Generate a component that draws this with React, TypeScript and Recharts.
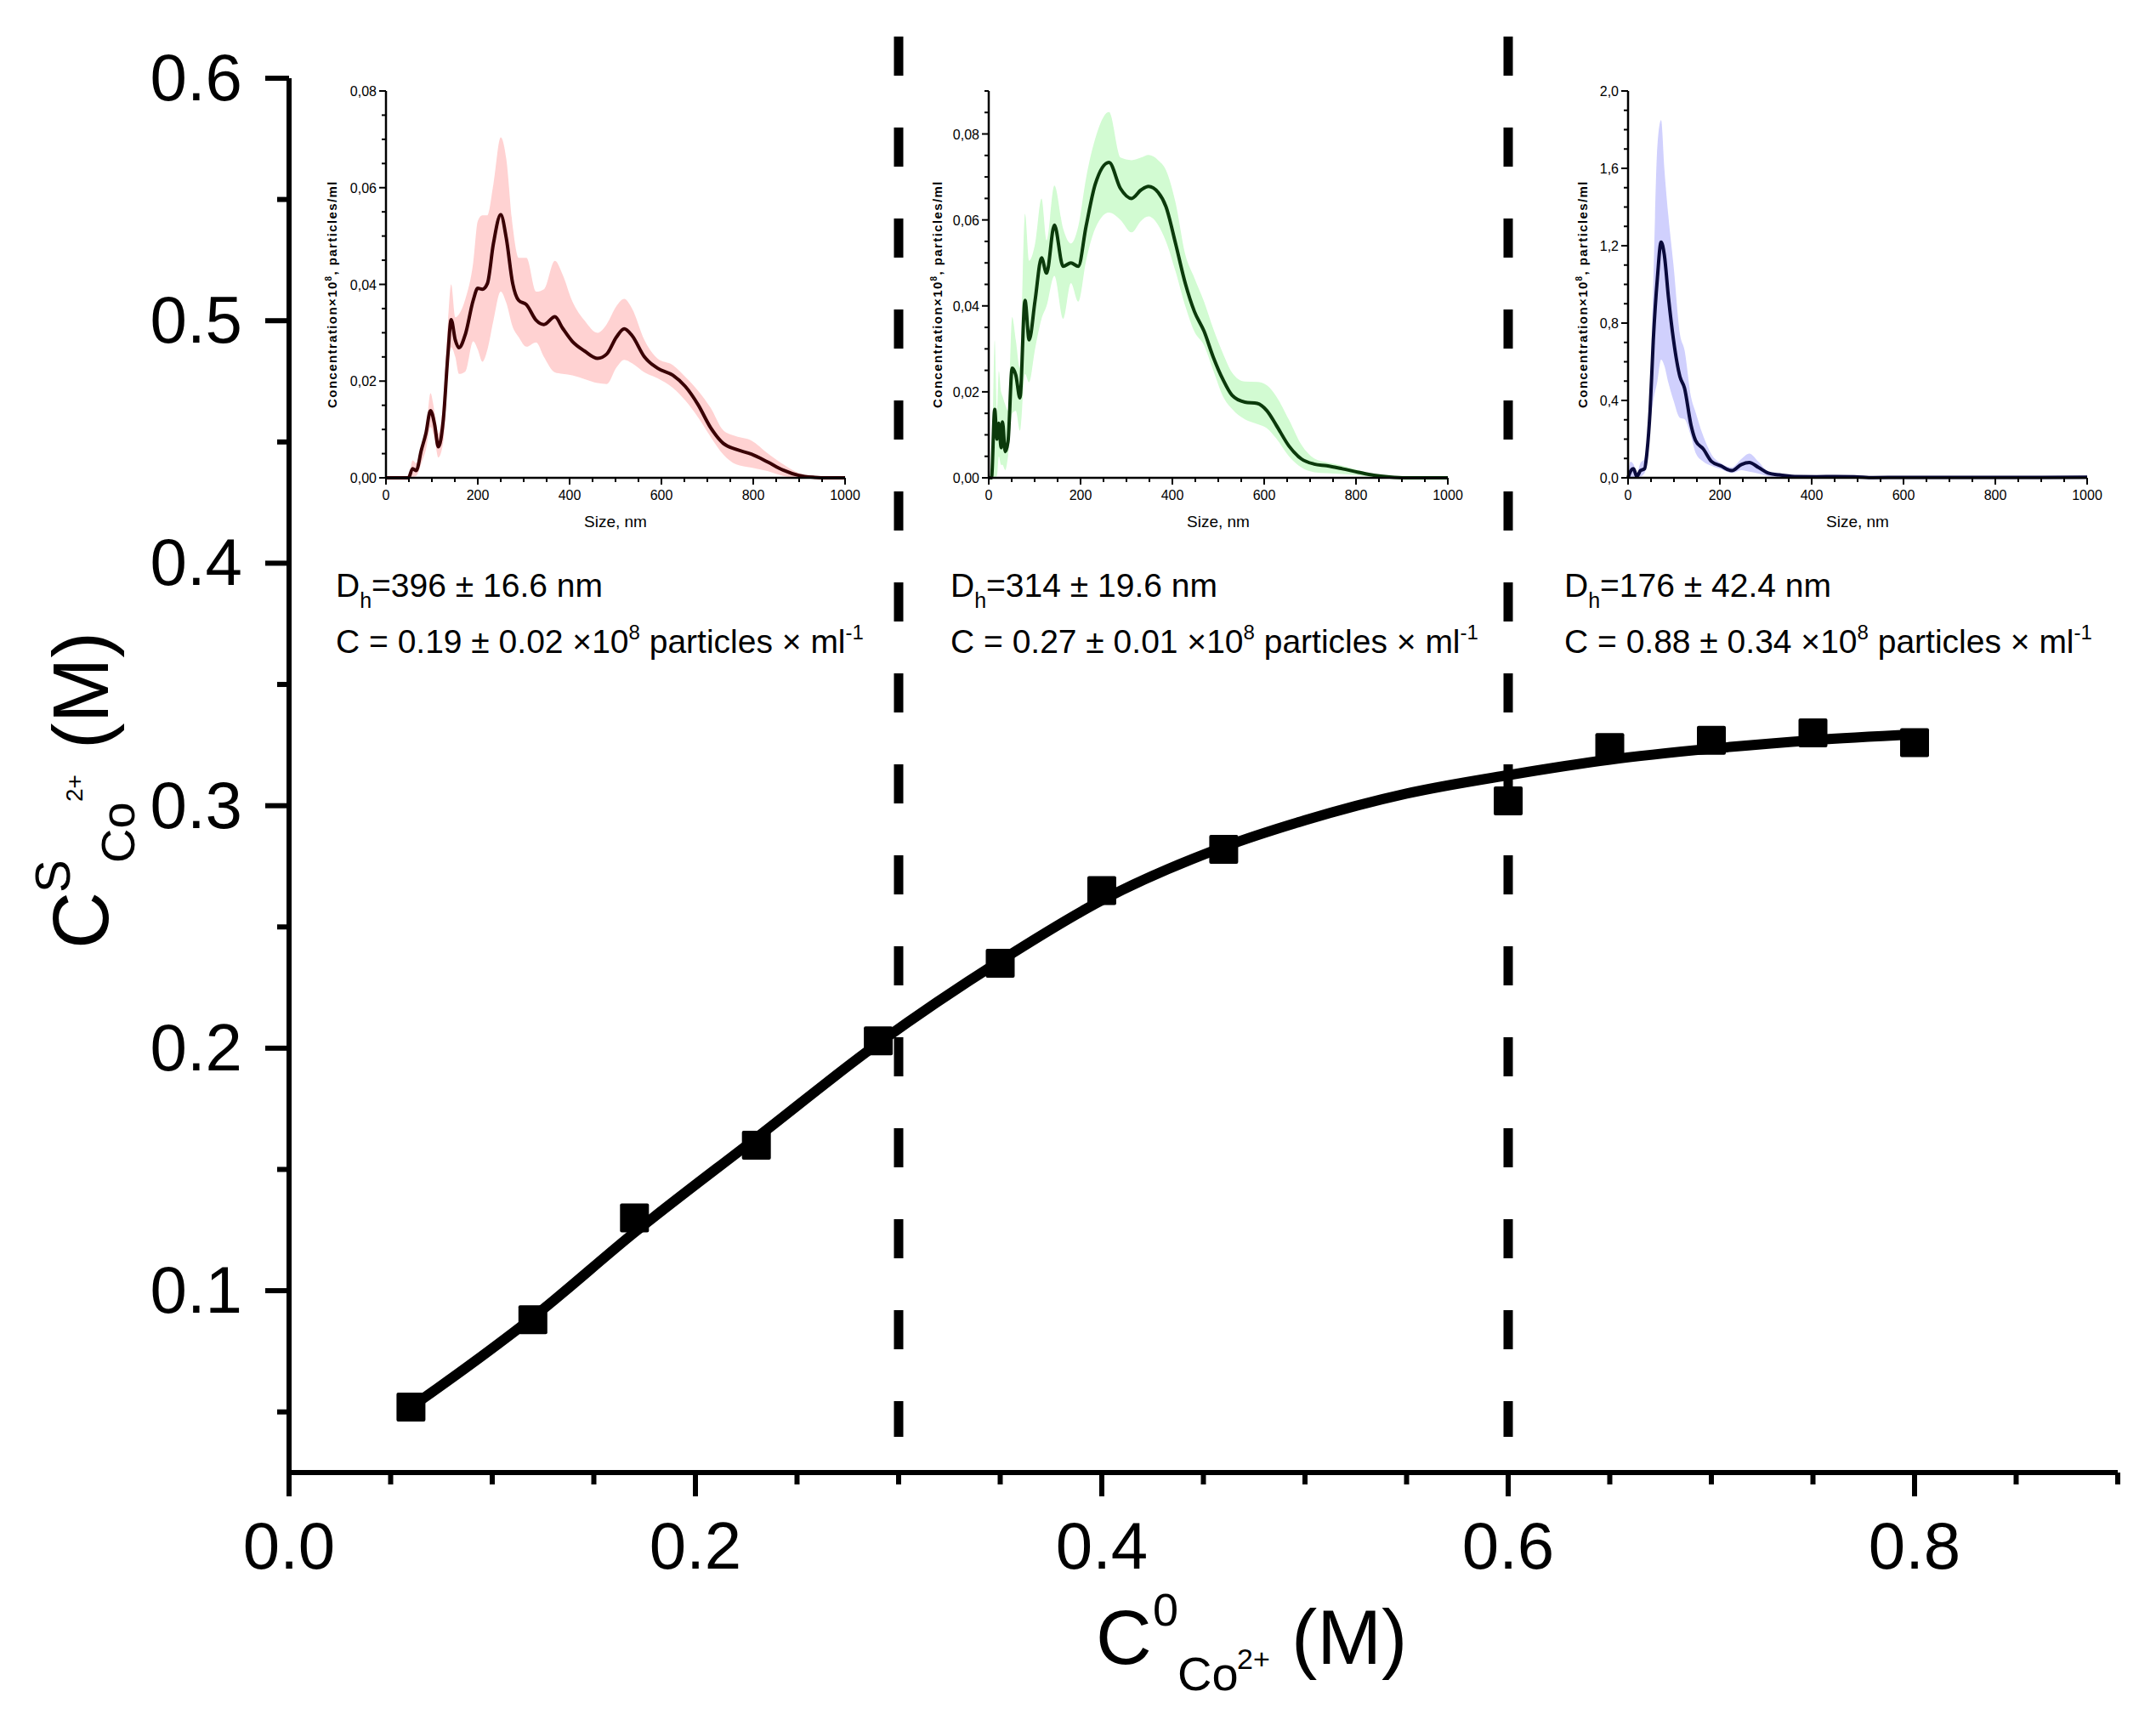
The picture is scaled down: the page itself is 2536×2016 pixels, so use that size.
import React from 'react';
import { ComposedChart, XAxis, YAxis, Line, Scatter, Area, ReferenceLine, Label } from 'recharts';

const FONT = "'Liberation Sans', Arial, Helvetica, sans-serif";

// main plot: sorbed vs. initial Co2+ concentration
const X_POINTS = [0.06, 0.12, 0.17, 0.23, 0.29, 0.35, 0.4, 0.46, 0.6, 0.65, 0.7, 0.75, 0.8];
const Y_POINTS = [0.052, 0.088, 0.13, 0.16, 0.203, 0.235, 0.265, 0.282, 0.302, 0.324, 0.327, 0.33, 0.326];
const FIT_X = [0.06, 0.09, 0.12, 0.17, 0.23, 0.29, 0.35, 0.4, 0.46, 0.5, 0.55, 0.6, 0.65, 0.7, 0.75, 0.8];
const FIT_Y = [0.052, 0.07, 0.089, 0.124, 0.163, 0.202, 0.236, 0.261, 0.283, 0.294, 0.305, 0.3126, 0.319, 0.3235, 0.327, 0.3294];
const X_TICKS = [0, 0.05, 0.1, 0.15, 0.2, 0.25, 0.3, 0.35, 0.4, 0.45, 0.5, 0.55, 0.6, 0.65, 0.7, 0.75, 0.8, 0.85, 0.9];
const X_LABELS = [0, 0.2, 0.4, 0.6, 0.8];
const Y_TICKS = [0.05, 0.1, 0.15, 0.2, 0.25, 0.3, 0.35, 0.4, 0.45, 0.5, 0.55, 0.6];
const Y_LABELS = [0.1, 0.2, 0.3, 0.4, 0.5, 0.6];
const BORDERS = [0.3, 0.6];

// inset annotations
const DH = [396, 314, 176];
const DH_ERR = [16.6, 19.6, 42.4];
const CONC = [0.19, 0.27, 0.88];
const CONC_ERR = [0.02, 0.01, 0.34];

// insets: size distributions
const INSET_X_TICKS = [0, 50, 100, 150, 200, 250, 300, 350, 400, 450, 500, 550, 600, 650, 700, 750, 800, 850, 900, 950, 1000];
const INSET_X_LABELS = [0, 200, 400, 600, 800, 1000];

const SIZES_1 = [0, 49, 58, 66, 77, 87, 97, 106, 114, 125, 135, 142, 151, 159, 173, 190, 200, 210, 221, 234, 250, 262, 276, 289, 306, 327, 344, 368, 385, 406, 433, 461, 481, 502, 519, 536, 563, 591, 625, 652, 680, 707, 735, 762, 796, 831, 865, 899, 934, 961, 1000];
const MEAN_1 = [0, 0, 0.0019, 0.0015, 0.0057, 0.0092, 0.0139, 0.011, 0.0064, 0.0121, 0.0256, 0.0327, 0.0285, 0.0269, 0.0297, 0.0367, 0.0392, 0.039, 0.0402, 0.0484, 0.0544, 0.0496, 0.0402, 0.0367, 0.0358, 0.0326, 0.0317, 0.0333, 0.0309, 0.0282, 0.0262, 0.0247, 0.0256, 0.0291, 0.0308, 0.0294, 0.025, 0.0227, 0.0212, 0.0189, 0.0151, 0.0104, 0.0071, 0.0059, 0.0049, 0.0033, 0.0016, 0.0005, 0.0001, 0, 0];
const LO_1 = [0, 0, 0.0002, 0.0004, 0.003, 0.0058, 0.0105, 0.008, 0.0042, 0.0075, 0.022, 0.027, 0.025, 0.0215, 0.022, 0.0282, 0.0265, 0.024, 0.0265, 0.0325, 0.0385, 0.0362, 0.0312, 0.0291, 0.0271, 0.028, 0.025, 0.0218, 0.0215, 0.0212, 0.0204, 0.0196, 0.0194, 0.0228, 0.0244, 0.0237, 0.0218, 0.0206, 0.0186, 0.016, 0.0125, 0.0085, 0.0048, 0.0028, 0.0021, 0.0014, 0.0004, 0, 0, 0, 0];
const HI_1 = [0, 0, 0.0036, 0.003, 0.0065, 0.0095, 0.0175, 0.0135, 0.0092, 0.016, 0.032, 0.04, 0.0332, 0.0338, 0.037, 0.0445, 0.0531, 0.0543, 0.0543, 0.0607, 0.0704, 0.066, 0.052, 0.0455, 0.0455, 0.0385, 0.039, 0.0449, 0.042, 0.0365, 0.0325, 0.03, 0.0318, 0.0355, 0.037, 0.035, 0.0285, 0.0247, 0.0233, 0.0209, 0.018, 0.0145, 0.0098, 0.0086, 0.0077, 0.0051, 0.0028, 0.001, 0.0002, 0, 0];

const SIZES_2 = [0, 6, 13, 18, 22, 27, 30, 36, 42, 51, 59, 68, 79, 88, 101, 115, 126, 143, 162, 179, 195, 212, 232, 262, 287, 311, 332, 348, 369, 386, 407, 428, 448, 469, 489, 510, 530, 558, 585, 606, 626, 654, 681, 709, 736, 770, 805, 839, 873, 908, 1000];
const MEAN_2 = [0, 0, 0.0159, 0.009, 0.0127, 0.007, 0.013, 0.0061, 0.0084, 0.0255, 0.0239, 0.0186, 0.0413, 0.0321, 0.0413, 0.0512, 0.0476, 0.0588, 0.0492, 0.05, 0.0492, 0.0585, 0.0683, 0.0734, 0.0673, 0.065, 0.067, 0.0678, 0.0664, 0.0631, 0.0545, 0.0453, 0.0387, 0.0341, 0.0281, 0.0229, 0.0192, 0.0176, 0.0173, 0.0156, 0.0123, 0.0074, 0.0044, 0.0032, 0.0028, 0.0021, 0.0013, 0.0006, 0.0002, 0, 0];
const LO_2 = [0, 0, 0, 0.0005, 0.005, 0.003, 0.003, 0.0018, 0.005, 0.015, 0.0156, 0.011, 0.0242, 0.0222, 0.03, 0.037, 0.04, 0.047, 0.037, 0.0453, 0.041, 0.0505, 0.058, 0.0617, 0.06, 0.0571, 0.0598, 0.0608, 0.0588, 0.055, 0.048, 0.04, 0.034, 0.0308, 0.025, 0.019, 0.016, 0.0136, 0.0125, 0.0115, 0.0092, 0.005, 0.0024, 0.0013, 0.0011, 0.0009, 0.0006, 0.0002, 0, 0, 0];
const HI_2 = [0, 0, 0.032, 0.0156, 0.0248, 0.02, 0.019, 0.017, 0.0156, 0.0374, 0.032, 0.0255, 0.0614, 0.0505, 0.0545, 0.065, 0.0552, 0.068, 0.058, 0.0545, 0.0585, 0.0697, 0.0789, 0.0851, 0.0745, 0.0739, 0.0745, 0.0751, 0.0739, 0.0716, 0.064, 0.052, 0.0465, 0.041, 0.0347, 0.029, 0.0245, 0.0224, 0.0223, 0.0215, 0.019, 0.0135, 0.0077, 0.0045, 0.0036, 0.0028, 0.0018, 0.0008, 0.0003, 0, 0];

const SIZES_3 = [0, 5, 12, 19, 27, 36, 41, 48, 55, 64, 72, 79, 88, 99, 113, 123, 137, 147, 164, 182, 202, 226, 247, 264, 284, 305, 329, 363, 411, 452, 493, 534, 600, 700, 800, 900, 1000];
const MEAN_3 = [0, 0.032, 0.047, 0.007, 0.037, 0.047, 0.127, 0.347, 0.713, 1.036, 1.219, 1.153, 0.933, 0.713, 0.523, 0.464, 0.274, 0.193, 0.149, 0.084, 0.062, 0.037, 0.069, 0.079, 0.054, 0.025, 0.015, 0.007, 0.006, 0.007, 0.006, 0.0015, 0.002, 0.002, 0.002, 0.002, 0.003];
const LO_3 = [0, 0, 0, 0, 0.005, 0.025, 0.08, 0.274, 0.4, 0.5, 0.611, 0.58, 0.49, 0.4, 0.31, 0.303, 0.215, 0.13, 0.084, 0.062, 0.045, 0.025, 0.04, 0.032, 0.022, 0.008, 0.004, 0.002, 0.002, 0.003, 0.002, 0, 0, 0, 0, 0, 0];
const HI_3 = [0, 0.083, 0.069, 0.025, 0.076, 0.1, 0.186, 0.4, 1.006, 1.72, 1.849, 1.6, 1.35, 1.1, 0.743, 0.66, 0.42, 0.34, 0.215, 0.12, 0.076, 0.054, 0.098, 0.125, 0.083, 0.034, 0.024, 0.012, 0.01, 0.009, 0.008, 0.003, 0.003, 0.003, 0.003, 0.003, 0.004];

const Y1_TICKS = [0, 0.005, 0.01, 0.015, 0.02, 0.025, 0.03, 0.035, 0.04, 0.045, 0.05, 0.055, 0.06, 0.065, 0.07, 0.075, 0.08];
const Y2_TICKS = [0, 0.005, 0.01, 0.015, 0.02, 0.025, 0.03, 0.035, 0.04, 0.045, 0.05, 0.055, 0.06, 0.065, 0.07, 0.075, 0.08, 0.085, 0.09];
const Y12_LABELS = [0, 0.02, 0.04, 0.06, 0.08];
const Y3_TICKS = [0, 0.1, 0.2, 0.3, 0.4, 0.5, 0.6, 0.7, 0.8, 0.9, 1, 1.1, 1.2, 1.3, 1.4, 1.5, 1.6, 1.7, 1.8, 1.9, 2];
const Y3_LABELS = [0, 0.4, 0.8, 1.2, 1.6, 2];

const points = X_POINTS.map((x, i) => ({ x, y: Y_POINTS[i] }));
const fit = FIT_X.map((x, i) => ({ x, y: FIT_Y[i] }));

const table = (sizes: number[], mean: number[], lo: number[], hi: number[]) =>
  sizes.map((s, i) => ({ s, mean: mean[i], band: [lo[i], hi[i]] }));

const isIn = (list: number[], v: number) => list.some((m) => Math.abs(m - v) < 1e-9);

const MainXTick = (props: any) => {
  const { x, y, payload } = props;
  const major = isIn(X_LABELS, payload.value);
  return (
    <g>
      <line x1={x} x2={x} y1={y} y2={y + (major ? 28 : 14)} stroke="#000" strokeWidth={6} />
      {major && (
        <text x={x} y={y + 113} textAnchor="middle" fontSize={78} fontFamily={FONT} fill="#000">
          {payload.value.toFixed(1)}
        </text>
      )}
    </g>
  );
};

const MainYTick = (props: any) => {
  const { x, y, payload } = props;
  const major = isIn(Y_LABELS, payload.value);
  return (
    <g>
      <line x1={x} x2={x - (major ? 28 : 14)} y1={y} y2={y} stroke="#000" strokeWidth={6} />
      {major && (
        <text x={x - 55} y={y + 26} textAnchor="end" fontSize={78} fontFamily={FONT} fill="#000">
          {payload.value.toFixed(1)}
        </text>
      )}
    </g>
  );
};

const renderYTitle = () => (
  <text transform="translate(127,1112) rotate(-90)" fontFamily={FONT} fill="#000">
    <tspan x={-4} y={0} fontSize={93}>C</tspan>
    <tspan x={62} y={-45} fontSize={58}>S</tspan>
    <tspan x={97} y={31} fontSize={56}>Co</tspan>
    <tspan x={169} y={-30} fontSize={28}>2+</tspan>
    <tspan x={231} y={0} fontSize={92}>(M)</tspan>
  </text>
);

const renderXTitle = () => (
  <text fontFamily={FONT} fill="#000">
    <tspan x={1289} y={1957} fontSize={91}>C</tspan>
    <tspan x={1356} y={1912} fontSize={54}>0</tspan>
    <tspan x={1385} y={1988} fontSize={56}>Co</tspan>
    <tspan x={1455} y={1963} fontSize={34}>2+</tspan>
    <tspan x={1519} y={1957} fontSize={91}>(M)</tspan>
  </text>
);

const INFO_X = [395, 1118, 1840];

const renderInfo = () => (
  <g fontFamily={FONT} fill="#000">
    {INFO_X.map((x, i) => (
      <g key={i}>
        <text x={x} y={702} fontSize={39}>
          D<tspan dy={13} fontSize={25}>h</tspan>
          <tspan dy={-13}>={DH[i]} ± {DH_ERR[i].toFixed(1)} nm</tspan>
        </text>
        <text x={x} y={768} fontSize={39}>
          C = {CONC[i].toFixed(2)} ± {CONC_ERR[i].toFixed(2)} ×10
          <tspan dy={-16} fontSize={24}>8</tspan>
          <tspan dy={16}> particles × ml</tspan>
          <tspan dy={-16} fontSize={24}>-1</tspan>
        </text>
      </g>
    ))}
  </g>
);

const InsetXTick = (props: any) => {
  const { x, y, payload } = props;
  const major = isIn(INSET_X_LABELS, payload.value);
  return (
    <g>
      <line x1={x} x2={x} y1={y} y2={y + (major ? 8 : 5)} stroke="#000" strokeWidth={2} />
      {major && (
        <text x={x} y={y + 26} textAnchor="middle" fontSize={16} fontFamily={FONT} fill="#000">
          {payload.value}
        </text>
      )}
    </g>
  );
};

const makeInsetYTick = (labels: number[], digits: number) => (props: any) => {
  const { x, y, payload } = props;
  const major = isIn(labels, payload.value);
  return (
    <g>
      <line x1={x} x2={x - (major ? 8 : 5)} y1={y} y2={y} stroke="#000" strokeWidth={2} />
      {major && (
        <text x={x - 11} y={y + 6} textAnchor="end" fontSize={16} fontFamily={FONT} fill="#000">
          {payload.value.toFixed(digits).replace('.', ',')}
        </text>
      )}
    </g>
  );
};

const Inset = ({ data, x0, yMax, yTicks, yLabels, digits, fill, stroke, titleOff }: any) => {
  const tx = 140 - titleOff;
  return (
    <div style={{ position: 'absolute', left: x0 - 140, top: 60 }}>
      <ComposedChart width={700} height={600} data={data} margin={{ top: 47, right: 20, bottom: 28, left: 40 }}>
        <XAxis
          dataKey="s"
          type="number"
          domain={[0, 1000]}
          ticks={INSET_X_TICKS}
          interval={0}
          height={70}
          tickSize={0}
          tickMargin={0}
          tickLine={false}
          axisLine={{ stroke: '#000', strokeWidth: 2.5 }}
          tick={InsetXTick}
        >
          <Label
            content={() => (
              <text x={410} y={560} textAnchor="middle" fontSize={19} fontFamily={FONT} fill="#000">
                Size, nm
              </text>
            )}
          />
        </XAxis>
        <YAxis
          type="number"
          domain={[0, yMax]}
          ticks={yTicks}
          interval={0}
          width={100}
          tickSize={0}
          tickMargin={0}
          tickLine={false}
          axisLine={{ stroke: '#000', strokeWidth: 2.5 }}
          tick={makeInsetYTick(yLabels, digits)}
        >
          <Label
            content={() => (
              <text
                transform={`translate(${tx},286) rotate(-90)`}
                textAnchor="middle"
                fontSize={15}
                fontWeight="bold"
                letterSpacing={1.4}
                fontFamily={FONT}
                fill="#000"
              >
                Concentration×10<tspan dy={-6} fontSize={10}>8</tspan>
                <tspan dy={6}>, particles/ml</tspan>
              </text>
            )}
          />
        </YAxis>
        <Area dataKey="band" type="monotone" fill={fill} fillOpacity={1} stroke="none" isAnimationActive={false} />
        <Line dataKey="mean" type="monotone" stroke={stroke} strokeWidth={4} dot={false} isAnimationActive={false} />
      </ComposedChart>
    </div>
  );
};

const Square = (props: any) => {
  const { cx, cy } = props;
  return <rect x={cx - 17} y={cy - 17} width={34} height={34} rx={2} fill="#000" />;
};

export default function App() {
  return (
    <div style={{ position: 'absolute', left: 0, top: 0, width: 2536, height: 2016, background: '#fff' }}>
      <div style={{ position: 'absolute', left: 0, top: 0 }}>
        <ComposedChart width={2536} height={2016} margin={{ top: 92, right: 45, bottom: 34, left: 0 }}>
          <XAxis
            dataKey="x"
            type="number"
            domain={[0, 0.9]}
            ticks={X_TICKS}
            interval={0}
            height={250}
            tickSize={0}
            tickMargin={0}
            tickLine={false}
            axisLine={{ stroke: '#000', strokeWidth: 6 }}
            tick={MainXTick}
          >
            <Label content={renderXTitle} />
            <Label content={renderInfo} />
          </XAxis>
          <YAxis
            type="number"
            domain={[0.025, 0.6]}
            ticks={Y_TICKS}
            interval={0}
            width={340}
            tickSize={0}
            tickMargin={0}
            tickLine={false}
            axisLine={{ stroke: '#000', strokeWidth: 6 }}
            tick={MainYTick}
          >
            <Label content={renderYTitle} />
          </YAxis>
          {BORDERS.map((b) => (
            <ReferenceLine
              key={b}
              segment={[{ x: b, y: 0.6172 }, { x: b, y: 0.0397 }]}
              ifOverflow="visible"
              stroke="#000"
              strokeWidth={11}
              strokeDasharray="46 61"
            />
          ))}
          <Line data={fit} dataKey="y" type="monotone" stroke="#000" strokeWidth={12} dot={false} isAnimationActive={false} />
          <Scatter data={points} dataKey="y" shape={Square} isAnimationActive={false} />
        </ComposedChart>
      </div>
      <Inset
        data={table(SIZES_1, MEAN_1, LO_1, HI_1)}
        x0={454}
        yMax={0.08}
        yTicks={Y1_TICKS}
        yLabels={Y12_LABELS}
        digits={2}
        fill="#ffd2d2"
        stroke="#3a0004"
        titleOff={58}
      />
      <Inset
        data={table(SIZES_2, MEAN_2, LO_2, HI_2)}
        x0={1163}
        yMax={0.09}
        yTicks={Y2_TICKS}
        yLabels={Y12_LABELS}
        digits={2}
        fill="#d2fbd2"
        stroke="#0b3a0b"
        titleOff={55}
      />
      <Inset
        data={table(SIZES_3, MEAN_3, LO_3, HI_3)}
        x0={1915}
        yMax={2}
        yTicks={Y3_TICKS}
        yLabels={Y3_LABELS}
        digits={1}
        fill="#d0d0fd"
        stroke="#0a0a3c"
        titleOff={48}
      />
    </div>
  );
}
